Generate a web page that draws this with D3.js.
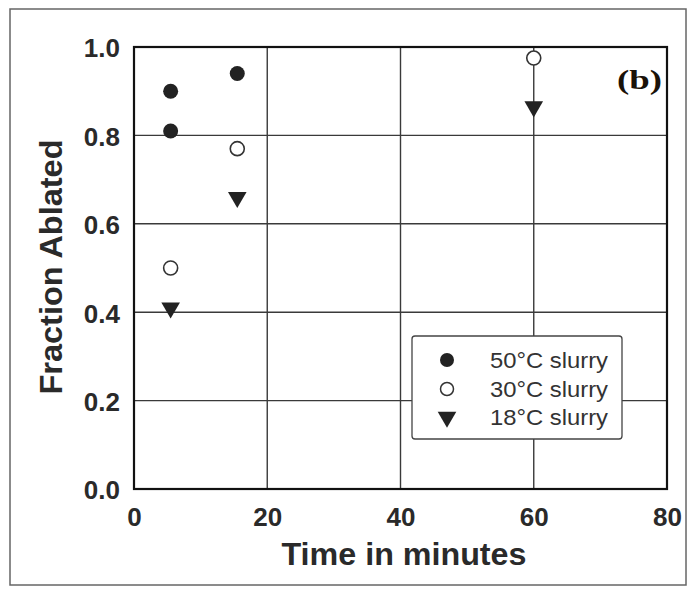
<!DOCTYPE html>
<html><head><meta charset="utf-8">
<script src="https://cdn.jsdelivr.net/npm/d3@7"></script>
<style>body{margin:0;background:#fff}svg{display:block}</style>
</head><body>
<svg id="c" width="694" height="590"></svg>
<script>
const xTicks = [0, 20, 40, 60, 80];
const yTicks = [0.0, 0.2, 0.4, 0.6, 0.8, 1.0];
const seriesNames = ["50°C slurry", "30°C slurry", "18°C slurry"];
const t50 = [5.5, 5.5, 15.5];
const v50 = [0.90, 0.81, 0.94];
const t30 = [5.5, 15.5, 60];
const v30 = [0.50, 0.77, 0.975];
const t18 = [5.5, 15.5, 60];
const v18 = [0.41, 0.66, 0.865];

const svg = d3.select("#c");
const L = 134, R = 667, T = 47, B = 489;
const x = d3.scaleLinear().domain([0, 80]).range([L, R]);
const y = d3.scaleLinear().domain([0, 1]).range([B, T]);
const font = "'Liberation Sans', Arial, sans-serif";

// outer frame
svg.append("rect").attr("x", 10).attr("y", 9).attr("width", 676).attr("height", 576)
  .attr("fill", "none").attr("stroke", "#666").attr("stroke-width", 1.5);

// grid
svg.append("g").selectAll("line").data(xTicks.slice(1, -1)).join("line")
  .attr("x1", d => x(d)).attr("x2", d => x(d)).attr("y1", T).attr("y2", B)
  .attr("stroke", "#3a3a3a").attr("stroke-width", 1.4);
svg.append("g").selectAll("line").data(yTicks.slice(1, -1)).join("line")
  .attr("y1", d => y(d)).attr("y2", d => y(d)).attr("x1", L).attr("x2", R)
  .attr("stroke", "#3a3a3a").attr("stroke-width", 1.4);

// axes
const xa = svg.append("g").attr("transform", `translate(0,${B})`)
  .call(d3.axisBottom(x).tickValues(xTicks).tickSize(0).tickPadding(19).tickFormat(d3.format("d")));
const ya = svg.append("g").attr("transform", `translate(${L},0)`)
  .call(d3.axisLeft(y).tickValues(yTicks).tickSize(0).tickPadding(14).tickFormat(d3.format(".1f")));
[xa, ya].forEach(a => {
  a.select(".domain").remove();
  a.selectAll("text").attr("font-family", font).attr("font-weight", "bold")
    .attr("font-size", 26).attr("fill", "#2a2a2a");
});
ya.selectAll("text").attr("dy", "0.38em");

// plot frame
svg.append("rect").attr("x", L).attr("y", T).attr("width", R - L).attr("height", B - T)
  .attr("fill", "none").attr("stroke", "#111").attr("stroke-width", 2.2);

// titles
svg.append("text").attr("x", 404).attr("y", 565).attr("text-anchor", "middle")
  .attr("font-family", font).attr("font-weight", "bold").attr("font-size", 31).attr("fill", "#2a2a2a")
  .attr("textLength", 245).attr("lengthAdjust", "spacingAndGlyphs")
  .text("Time in minutes");
svg.append("text").attr("transform", `translate(62,267) rotate(-90)`).attr("text-anchor", "middle")
  .attr("font-family", font).attr("font-weight", "bold").attr("font-size", 31).attr("fill", "#2a2a2a")
  .attr("textLength", 255).attr("lengthAdjust", "spacingAndGlyphs")
  .text("Fraction Ablated");

svg.append("text").attr("x", 617).attr("y", 89)
  .attr("font-family", "'Liberation Serif', 'Times New Roman', serif").attr("font-weight", "bold")
  .attr("font-size", 28).attr("fill", "#1a1208")
  .attr("textLength", 45).attr("lengthAdjust", "spacingAndGlyphs").text("(b)");

// markers
const tri = d3.symbol().type(d3.symbolTriangle).size(150);
function drawTri(g, cx, cy) {
  g.append("path").attr("d", tri()).attr("transform", `translate(${cx},${cy}) rotate(180)`)
    .attr("fill", "#222");
}
const pts = svg.append("g");
t50.forEach((t, i) => pts.append("circle").attr("cx", x(t)).attr("cy", y(v50[i])).attr("r", 7.5).attr("fill", "#222"));
t30.forEach((t, i) => pts.append("circle").attr("cx", x(t)).attr("cy", y(v30[i])).attr("r", 7).attr("fill", "#fff").attr("stroke", "#333").attr("stroke-width", 1.6));
t18.forEach((t, i) => drawTri(pts, x(t), y(v18[i])));

// legend
const lg = svg.append("g");
lg.append("rect").attr("x", 412).attr("y", 336).attr("width", 210).attr("height", 103).attr("rx", 3)
  .attr("fill", "#fff").attr("stroke", "#444").attr("stroke-width", 1.3);
const rows = [360, 389, 417];
seriesNames.forEach((n, i) => {
  const cy = rows[i];
  if (i === 0) lg.append("circle").attr("cx", 447).attr("cy", cy).attr("r", 7).attr("fill", "#222");
  if (i === 1) lg.append("circle").attr("cx", 447).attr("cy", cy).attr("r", 6.5).attr("fill", "#fff").attr("stroke", "#333").attr("stroke-width", 1.5);
  if (i === 2) drawTri(lg, 447, cy);
  lg.append("text").attr("x", 490).attr("y", cy + 7.5).attr("font-family", font).attr("font-size", 21.5)
    .attr("fill", "#333").attr("textLength", 118).attr("lengthAdjust", "spacingAndGlyphs").text(n);
});
</script>
</body></html>
